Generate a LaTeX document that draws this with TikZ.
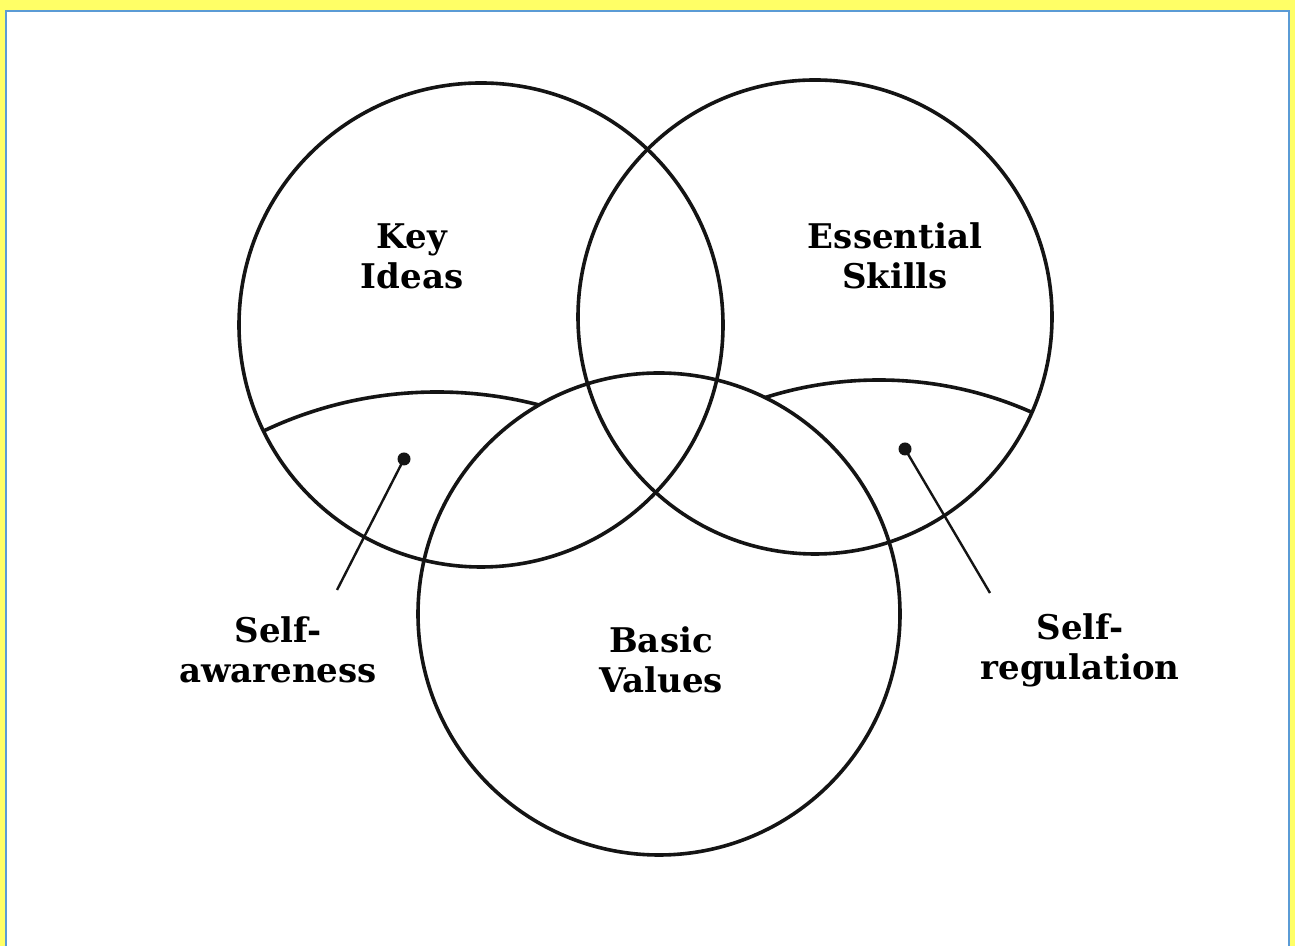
\documentclass[tikz,border=0pt]{standalone}
\usepackage{fontspec}
\setmainfont{DejaVu Serif}

\definecolor{frameyellow}{RGB}{255,255,102}
\definecolor{frameblue}{RGB}{91,155,213}

\begin{document}
\begin{tikzpicture}[x=0.5pt,y=0.5pt,
    ring/.style={line width=1.8pt, black!92},
    lead/.style={line width=1.2pt, black!92},
    lbl/.style={font=\bfseries\fontsize{17}{20}\selectfont, align=center}]

\useasboundingbox (0,0) rectangle (1295,946);
\fill[frameyellow] (0,0) rectangle (1295,946);
\fill[white] (6,0) rectangle (1289,935);
\draw[frameblue, line width=1pt] (6,0) -- (6,935) -- (1289,935) -- (1289,0);

\coordinate (I) at (481,621);
\coordinate (S) at (815,629);
\coordinate (V) at (659,332);

% lower caps of the two top circles
\begin{scope}[even odd rule]
    \clip (I) circle (242);
    \clip (0,0) rectangle (1295,946) (V) circle (241);
    \draw[ring] (437,150) circle (404);
\end{scope}
\begin{scope}[even odd rule]
    \clip (S) circle (237);
    \clip (0,0) rectangle (1295,946) (V) circle (241);
    \draw[ring] (879,190) circle (376);
\end{scope}

\draw[ring] (I) circle (242);
\draw[ring] (S) circle (237);
\draw[ring] (V) circle (241);

\node[lbl] (ideas)  at (412,690) {Key\\Ideas};
\node[lbl] (skills) at (895,690) {Essential\\Skills};
\node[lbl] (values) at (661,286) {Basic\\Values};
\node[lbl] (aware)  at (278,296) {Self-\\awareness};
\node[lbl] (regul)  at (1080,296) {Self-\\regulation};

\coordinate (adot) at (404,487);
\coordinate (aend) at (337,356);
\coordinate (rdot) at (905,497);
\coordinate (rend) at (990,353);

\foreach \d in {adot,rdot}
    \fill[black!92] (\d) circle (6.5);

\draw[lead] (adot) -- (aend);
\draw[lead] (rdot) -- (rend);

\end{tikzpicture}
\end{document}
